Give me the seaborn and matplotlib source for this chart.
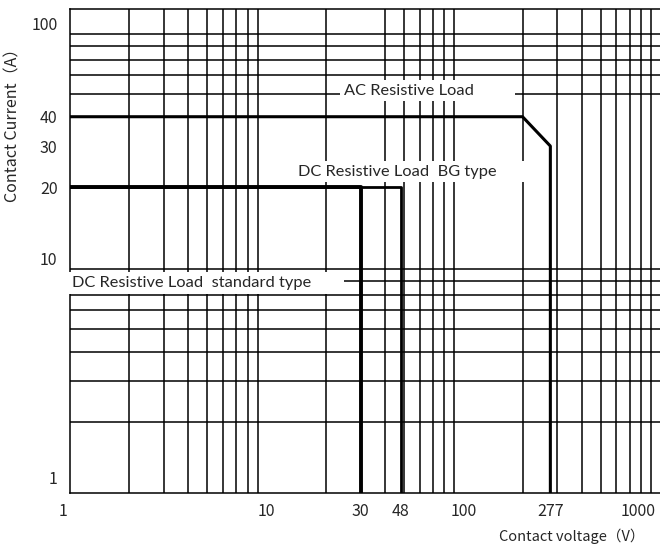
import numpy as np
import matplotlib
matplotlib.use("Agg")
import matplotlib.pyplot as plt
import matplotlib.ticker as mticker
from matplotlib.transforms import ScaledTranslation
import seaborn as sns

# Load curves
ac_voltage = [1, 200, 277, 277]
ac_current = [40, 40, 30, 1]
dc_std_voltage = [1, 30, 30]
dc_std_current = [20, 20, 1]
dc_bg_voltage = [1, 48, 48]
dc_bg_current = [20, 20, 1]

x_ticks = [1, 10, 30, 48, 100, 277, 1000]
y_ticks = [1, 10, 20, 30, 40, 100]

sns.set_style("white")
plt.rcParams['font.family'] = ['Noto Sans CJK SC', 'DejaVu Sans']

fig = plt.figure(figsize=(6.6, 5.46), dpi=100)
ax = fig.add_axes([70 / 660, 53 / 546, 590 / 660, 484 / 546])

# estimator=None so the vertical segments are kept as drawn
sns.lineplot(x=ac_voltage, y=ac_current, sort=False, estimator=None, color='black', lw=2.2, ax=ax, zorder=5)
sns.lineplot(x=dc_std_voltage, y=dc_std_current, sort=False, estimator=None, color='black', lw=2.8, ax=ax, zorder=5)
sns.lineplot(x=dc_bg_voltage, y=dc_bg_current, sort=False, estimator=None, color='black', lw=2.0, ax=ax, zorder=5)

ax.set_xscale('log')
ax.set_yscale('log')
ax.set_xlim(1, 1000)
ax.set_ylim(1, 115)

# grid on every 1..9 x decade, labels only on chosen values
ax.xaxis.set_minor_locator(mticker.LogLocator(base=10, subs=np.arange(1, 10), numticks=20))
ax.yaxis.set_minor_locator(mticker.LogLocator(base=10, subs=np.arange(1, 10), numticks=20))
ax.xaxis.set_minor_formatter(mticker.NullFormatter())
ax.yaxis.set_minor_formatter(mticker.NullFormatter())
ax.xaxis.set_major_locator(mticker.FixedLocator(x_ticks))
ax.yaxis.set_major_locator(mticker.FixedLocator(y_ticks))
ax.set_xticklabels([str(v) for v in x_ticks])
ax.set_yticklabels([str(v) for v in y_ticks])
ax.grid(which='minor', color='black', lw=1.1)
ax.grid(which='major', visible=False)
ax.tick_params(which='both', length=0)
ax.tick_params(axis='x', pad=7, labelsize=11.5)
ax.tick_params(axis='y', pad=9, labelsize=11.5)

# nudge end labels like the original
xl = ax.get_xticklabels()
xl[0].set_ha('right')
xl[0].set_transform(xl[0].get_transform() + ScaledTranslation(-3 / 100, 0, fig.dpi_scale_trans))
xl[-1].set_ha('right')
xl[-1].set_transform(xl[-1].get_transform() + ScaledTranslation(-4 / 100, 0, fig.dpi_scale_trans))
yl = ax.get_yticklabels()
yl[0].set_transform(yl[0].get_transform() + ScaledTranslation(0, 16 / 100, fig.dpi_scale_trans))

for side in ['top', 'left', 'bottom']:
    ax.spines[side].set_color('black')
    ax.spines[side].set_linewidth(1.1)
ax.spines['right'].set_visible(False)

ax.set_xlabel('Contact voltage（V）', fontsize=10.5)
ax.set_ylabel('Contact Current（A）', fontsize=11.5)
ax.xaxis.set_label_coords(0.85, -0.074)
ax.yaxis.set_label_coords(-0.083, 0.767)

box = dict(facecolor='white', edgecolor='none', boxstyle='square,pad=0.22')
lab_font = ['Lato', 'DejaVu Sans']
ax.text(0.464, 0.831, 'AC Resistive Load' + ' ' * 9, transform=ax.transAxes, ha='left', va='center',
        fontsize=11.8, family=lab_font, bbox=box, zorder=4)
ax.text(0.386, 0.664, 'DC Resistive Load  BG type' + ' ' * 7, transform=ax.transAxes, ha='left', va='center',
        fontsize=11.8, family=lab_font, bbox=box, zorder=4)
ax.text(0.003, 0.434, 'DC Resistive Load  standard type' + ' ' * 7, transform=ax.transAxes, ha='left', va='center',
        fontsize=11.8, family=lab_font, bbox=box, zorder=4)

plt.savefig('out.png', dpi=100)
